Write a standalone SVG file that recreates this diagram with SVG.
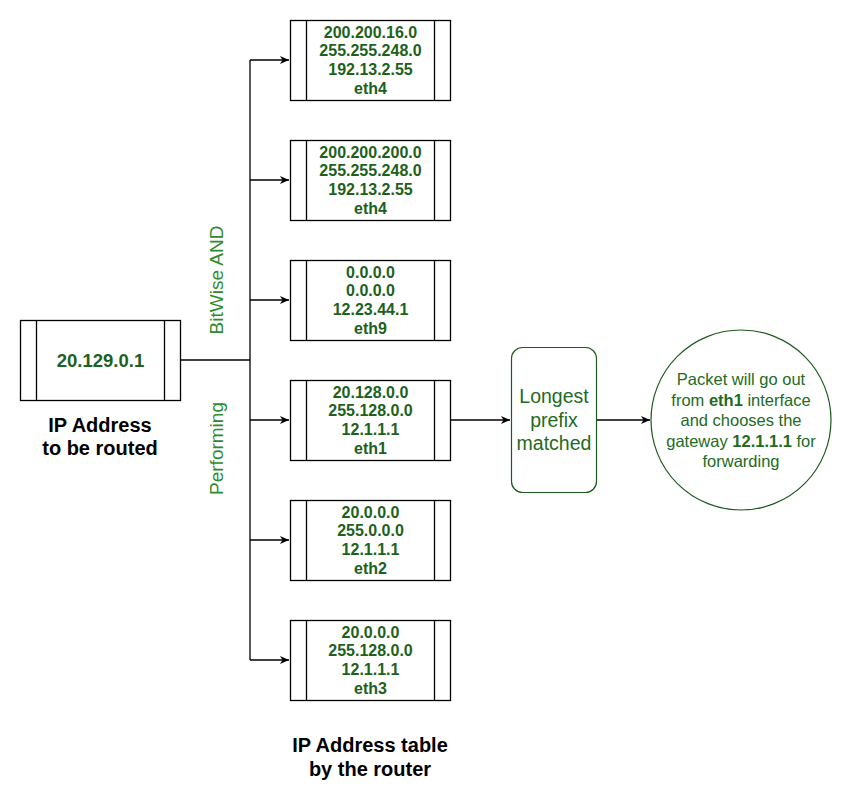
<svg xmlns="http://www.w3.org/2000/svg" width="851" height="801" viewBox="0 0 851 801">
<defs>
<style>
.box{fill:#fff;stroke:#000;stroke-width:1.3}
.ln{stroke:#000;stroke-width:1.3;fill:none}
.t{font-family:"Liberation Sans",Arial,sans-serif;font-weight:bold;font-size:16px;fill:#1d611d;text-anchor:middle}
.big{font-family:"Liberation Sans",Arial,sans-serif;font-weight:bold;font-size:18.5px;fill:#1d611d;text-anchor:middle}
.cap{font-family:"Liberation Sans",Arial,sans-serif;font-weight:bold;font-size:20px;fill:#000;text-anchor:middle}
.rot{font-family:"Liberation Sans",Arial,sans-serif;font-size:19px;fill:#2e8b2e;text-anchor:middle}
.g{font-family:"Liberation Sans",Arial,sans-serif;font-size:19.5px;fill:#226b22;text-anchor:middle}
.c{font-family:"Liberation Sans",Arial,sans-serif;font-size:16.5px;fill:#226b22;text-anchor:middle}
</style>
<marker id="ah" markerWidth="10" markerHeight="8" refX="9" refY="4" orient="auto" markerUnits="userSpaceOnUse">
<path d="M0,0 L9,4 L0,8 L2.5,4 Z" fill="#000"/>
</marker>
</defs>
<rect width="851" height="801" fill="#fff"/>

<g id="connectors">
<line class="ln" x1="180" y1="360" x2="250" y2="360"/>
<line class="ln" x1="250" y1="60" x2="250" y2="660"/>
<line class="ln" x1="250" y1="60" x2="289" y2="60" marker-end="url(#ah)"/>
<line class="ln" x1="250" y1="180" x2="289" y2="180" marker-end="url(#ah)"/>
<line class="ln" x1="250" y1="300" x2="289" y2="300" marker-end="url(#ah)"/>
<line class="ln" x1="250" y1="420" x2="289" y2="420" marker-end="url(#ah)"/>
<line class="ln" x1="250" y1="540" x2="289" y2="540" marker-end="url(#ah)"/>
<line class="ln" x1="250" y1="660" x2="289" y2="660" marker-end="url(#ah)"/>
<line class="ln" x1="450" y1="420" x2="510" y2="420" marker-end="url(#ah)"/>
<line class="ln" x1="597" y1="420" x2="650" y2="420" marker-end="url(#ah)"/>
</g>

<g id="labels">
<text class="rot" transform="translate(223,280) rotate(-90)">BitWise AND</text>
<text class="rot" transform="translate(223,448.5) rotate(-90)">Performing</text>
<text class="cap" x="100" y="431.5">IP Address</text>
<text class="cap" x="100" y="455">to be routed</text>
<text class="cap" x="370" y="752">IP Address table</text>
<text class="cap" x="370" y="775.5">by the router</text>
</g>

<g id="ip">
<rect class="box" x="20.5" y="320.5" width="160" height="80"/>
<line class="ln" x1="36.5" y1="320.5" x2="36.5" y2="400.5"/>
<line class="ln" x1="164.5" y1="320.5" x2="164.5" y2="400.5"/>
<text class="big" x="100.5" y="367">20.129.0.1</text>
</g>

<g id="r1">
<rect class="box" x="290.5" y="20.5" width="160" height="80"/>
<line class="ln" x1="306.5" y1="20.5" x2="306.5" y2="100.5"/>
<line class="ln" x1="434.5" y1="20.5" x2="434.5" y2="100.5"/>
<text class="t" x="370.5" y="37.5">200.200.16.0</text>
<text class="t" x="370.5" y="56.2">255.255.248.0</text>
<text class="t" x="370.5" y="74.9">192.13.2.55</text>
<text class="t" x="370.5" y="93.6">eth4</text>
</g>

<g id="r2">
<rect class="box" x="290.5" y="140.5" width="160" height="80"/>
<line class="ln" x1="306.5" y1="140.5" x2="306.5" y2="220.5"/>
<line class="ln" x1="434.5" y1="140.5" x2="434.5" y2="220.5"/>
<text class="t" x="370.5" y="157.5">200.200.200.0</text>
<text class="t" x="370.5" y="176.2">255.255.248.0</text>
<text class="t" x="370.5" y="194.9">192.13.2.55</text>
<text class="t" x="370.5" y="213.6">eth4</text>
</g>

<g id="r3">
<rect class="box" x="290.5" y="260.5" width="160" height="80"/>
<line class="ln" x1="306.5" y1="260.5" x2="306.5" y2="340.5"/>
<line class="ln" x1="434.5" y1="260.5" x2="434.5" y2="340.5"/>
<text class="t" x="370.5" y="277.5">0.0.0.0</text>
<text class="t" x="370.5" y="296.2">0.0.0.0</text>
<text class="t" x="370.5" y="314.9">12.23.44.1</text>
<text class="t" x="370.5" y="333.6">eth9</text>
</g>

<g id="r4">
<rect class="box" x="290.5" y="380.5" width="160" height="80"/>
<line class="ln" x1="306.5" y1="380.5" x2="306.5" y2="460.5"/>
<line class="ln" x1="434.5" y1="380.5" x2="434.5" y2="460.5"/>
<text class="t" x="370.5" y="397.5">20.128.0.0</text>
<text class="t" x="370.5" y="416.2">255.128.0.0</text>
<text class="t" x="370.5" y="434.9">12.1.1.1</text>
<text class="t" x="370.5" y="453.6">eth1</text>
</g>

<g id="r5">
<rect class="box" x="290.5" y="500.5" width="160" height="80"/>
<line class="ln" x1="306.5" y1="500.5" x2="306.5" y2="580.5"/>
<line class="ln" x1="434.5" y1="500.5" x2="434.5" y2="580.5"/>
<text class="t" x="370.5" y="517.5">20.0.0.0</text>
<text class="t" x="370.5" y="536.2">255.0.0.0</text>
<text class="t" x="370.5" y="554.9">12.1.1.1</text>
<text class="t" x="370.5" y="573.6">eth2</text>
</g>

<g id="r6">
<rect class="box" x="290.5" y="620.5" width="160" height="80"/>
<line class="ln" x1="306.5" y1="620.5" x2="306.5" y2="700.5"/>
<line class="ln" x1="434.5" y1="620.5" x2="434.5" y2="700.5"/>
<text class="t" x="370.5" y="637.5">20.0.0.0</text>
<text class="t" x="370.5" y="656.2">255.128.0.0</text>
<text class="t" x="370.5" y="674.9">12.1.1.1</text>
<text class="t" x="370.5" y="693.6">eth3</text>
</g>

<g id="longest">
<rect x="511.5" y="347.5" width="85" height="145" rx="11" ry="11" fill="#fff" stroke="#1e5a1e" stroke-width="1.2"/>
<text class="g" x="554" y="403">Longest</text>
<text class="g" x="554" y="426.5">prefix</text>
<text class="g" x="554" y="450">matched</text>
</g>

<g id="result">
<circle cx="741" cy="420" r="90" fill="#fff" stroke="#1e5a1e" stroke-width="1.2"/>
<text class="c" x="741" y="385">Packet will go out</text>
<text class="c" x="741" y="405.5">from <tspan font-weight="bold">eth1</tspan> interface</text>
<text class="c" x="741" y="426">and chooses the</text>
<text class="c" x="741" y="446.5">gateway <tspan font-weight="bold">12.1.1.1</tspan> for</text>
<text class="c" x="741" y="467">forwarding</text>
</g>
</svg>
